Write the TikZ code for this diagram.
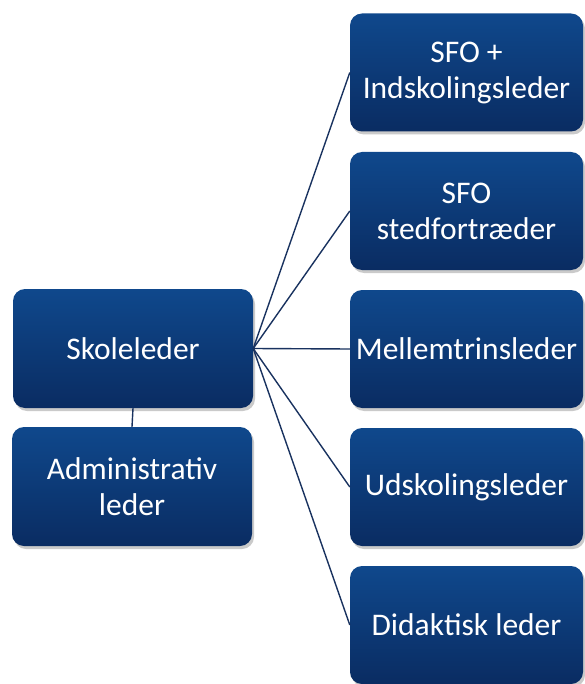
\documentclass[tikz,border=0pt]{standalone}
\usepackage{fontspec}
\setmainfont{Carlito}
\usetikzlibrary{shadows}
\definecolor{boxtop}{RGB}{15,72,140}
\definecolor{boxbot}{RGB}{10,44,98}
\definecolor{linecol}{RGB}{25,50,95}
\tikzset{
  orgbox/.style={rounded corners=12pt, top color=boxtop, bottom color=boxbot,
    draw=none, text=white, align=center, inner sep=0pt,
    font=\fontsize{31.5}{36}\selectfont,
    drop shadow={shadow xshift=2pt, shadow yshift=-3pt, opacity=0.35, fill=black!60}},
  rbox/.style={orgbox, minimum width=233pt, minimum height=118pt},
  lbox/.style={orgbox, minimum width=240pt, minimum height=119pt},
  conn/.style={draw=linecol, line width=1.4pt}
}
\begin{document}
\begin{tikzpicture}[x=1pt,y=-1pt]
\useasboundingbox (0,0) rectangle (585,684);
\node[lbox] (sk) at (133,348.5) {Skoleleder};
\node[lbox] (ad) at (132,486.5) {Administrativ\\leder};
\node[rbox] (r1) at (466.5,72.5) {SFO +\\Indskolingsleder};
\node[rbox] (r2) at (466.5,211) {SFO\\stedfortræder};
\node[rbox] (r3) at (466.5,349) {Mellemtrinsleder};
\node[rbox] (r4) at (466.5,487) {Udskolingsleder};
\node[rbox] (r5) at (466.5,625) {Didaktisk leder};
\draw[conn] (sk.south) -- (ad.north);
\foreach \r in {r1,r2,r3,r4,r5} {\draw[conn] (sk.east) -- (\r.west);}
\end{tikzpicture}
\end{document}
